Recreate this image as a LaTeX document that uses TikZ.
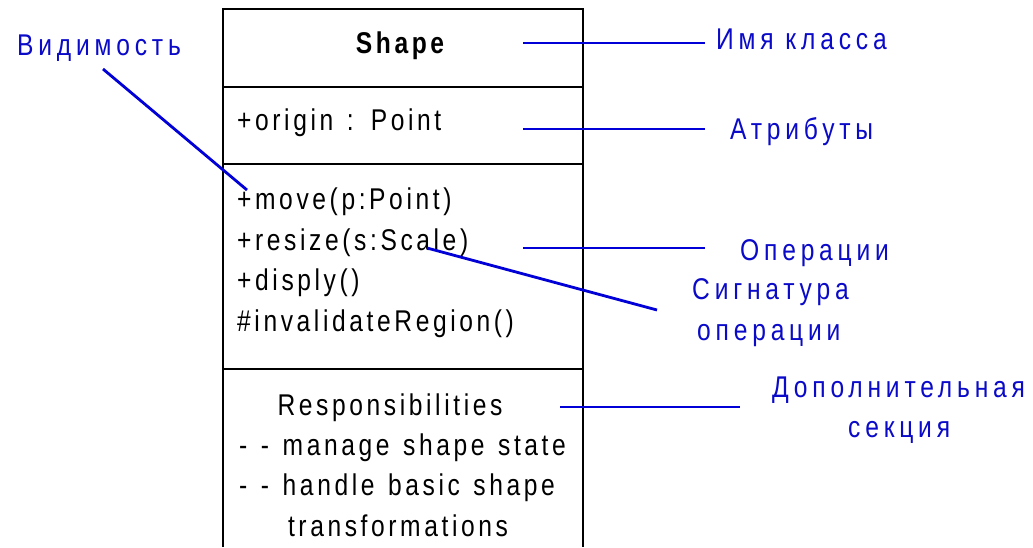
\documentclass[tikz,border=0pt]{standalone}
\usepackage{fontspec}
\setmainfont{Liberation Sans}[FakeStretch=0.82, LetterSpace=12, WordSpace=1.3]
\newfontfamily\lblfont{Liberation Sans}[FakeStretch=0.82, LetterSpace=16]
\definecolor{lblblue}{RGB}{10,10,200}
\definecolor{lineblue}{RGB}{0,0,215}
\begin{document}
\begin{tikzpicture}[x=1pt,y=-1pt,
  cls/.style={inner sep=0pt, font=\fontsize{30}{34}\selectfont, text=black},
  lbl/.style={inner sep=0pt, font=\lblfont\fontsize{30}{34}\selectfont, text=lblblue},
  pointer/.style={draw=lineblue, line width=2.8pt},
  boxline/.style={draw=black, line width=1.4pt}]
\useasboundingbox[fill=white] (0,0) rectangle (1033,547);
% class box
\draw[boxline] (223,9) rectangle (583,369);
\draw[boxline] (223,87) -- (583,87);
\draw[boxline] (223,164) -- (583,164);
\draw[draw=black, line width=2.8pt] (223,547) -- (223,369) -- (583,369) -- (583,547);
% class texts
\node[cls, anchor=base, font=\bfseries\fontsize{30}{34}\selectfont] (name) at (400,53) {Shape};
\node[cls, anchor=base west] (attr) at (237,130) {+origin : Point};
\node[cls, anchor=base west] (op1) at (237,209) {+move(p:Point)};
\node[cls, anchor=base west] (op2) at (237,250) {+resize(s:Scale)};
\node[cls, anchor=base west] (op3) at (237,290) {+disply()};
\node[cls, anchor=base west] (op4) at (237,331) {\#invalidateRegion()};
\node[cls, anchor=base] (resp) at (390,415) {Responsibilities};
\node[cls, anchor=base west] (r1) at (239,455) {- - manage shape state};
\node[cls, anchor=base west] (r2) at (239,495) {- - handle basic shape};
\node[cls, anchor=base] (r3) at (398,536) {transformations};
% labels
\node[lbl, anchor=base west] (lvis) at (17,55) {Видимость};
\node[lbl, anchor=base west] (lname) at (716,49) {Имя класса};
\node[lbl, anchor=base west] (lattr) at (730,139) {Атрибуты};
\node[lbl, anchor=base west] (lops) at (740,260) {Операции};
\node[lbl, anchor=base west] (lsig1) at (692,299) {Сигнатура};
\node[lbl, anchor=base west] (lsig2) at (697,340) {операции};
\node[lbl, anchor=base west] (lext1) at (772,397) {Дополнительная};
\node[lbl, anchor=base west] (lext2) at (848,437) {секция};
% connector end points
\coordinate (visA) at (103,69);
\coordinate (visB) at (247,190);
\coordinate (nameA) at (523,43);
\coordinate (nameB) at (705,43);
\coordinate (attrA) at (523,129);
\coordinate (attrB) at (705,129);
\coordinate (opsA) at (523,248);
\coordinate (opsB) at (705,248);
\coordinate (sigA) at (427,248);
\coordinate (sigB) at (657,310);
\coordinate (respA) at (560,407);
\coordinate (respB) at (740,407);
\draw[pointer] (visA) -- (visB);
\draw[pointer] (nameA) -- (nameB);
\draw[pointer] (attrA) -- (attrB);
\draw[pointer] (opsA) -- (opsB);
\draw[pointer] (sigA) -- (sigB);
\draw[pointer] (respA) -- (respB);
\end{tikzpicture}
\end{document}
